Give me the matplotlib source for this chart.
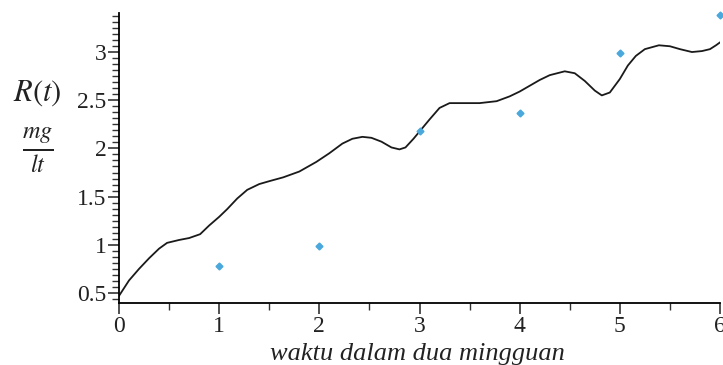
import matplotlib
matplotlib.use("Agg")
import matplotlib.pyplot as plt
from matplotlib.ticker import MultipleLocator

# measured data (weeks, mg/lt)
data_t = [1, 2, 3, 4, 5, 6]
data_r = [0.78, 0.99, 2.18, 2.37, 2.99, 3.38]

# fitted curve R(t)
curve_t = [0.0, 0.1, 0.2, 0.3, 0.4, 0.48, 0.6, 0.7, 0.81, 0.9, 1.0, 1.08, 1.18,
           1.28, 1.4, 1.5, 1.64, 1.8, 1.97, 2.1, 2.23, 2.33, 2.43, 2.52, 2.62,
           2.72, 2.8, 2.86, 2.94, 3.02, 3.1, 3.2, 3.3, 3.45, 3.6, 3.77, 3.9,
           4.0, 4.1, 4.2, 4.3, 4.45, 4.55, 4.65, 4.75, 4.82, 4.9, 5.0, 5.08,
           5.16, 5.25, 5.39, 5.5, 5.6, 5.72, 5.82, 5.9, 5.96, 6.0]
curve_r = [0.47, 0.63, 0.75, 0.86, 0.96, 1.02, 1.05, 1.07, 1.11, 1.2, 1.29, 1.37,
           1.48, 1.57, 1.63, 1.66, 1.7, 1.76, 1.86, 1.95, 2.05, 2.1, 2.12, 2.11,
           2.07, 2.01, 1.99, 2.01, 2.1, 2.2, 2.3, 2.42, 2.47, 2.47, 2.47, 2.49,
           2.54, 2.59, 2.65, 2.71, 2.76, 2.8, 2.78, 2.7, 2.6, 2.55, 2.58, 2.72,
           2.86, 2.96, 3.03, 3.07, 3.06, 3.03, 3.0, 3.01, 3.03, 3.07, 3.1]

plt.rcParams["font.family"] = ["Liberation Serif", "DejaVu Serif"]
plt.rcParams["mathtext.fontset"] = "stix"

fig = plt.figure(figsize=(7.23, 3.65), dpi=100)
ax = fig.add_axes([119 / 723, 1 - 303 / 365, 601 / 723, 290 / 365])

ax.plot(curve_t, curve_r, color="#1a1a1a", linewidth=1.3)
ax.plot(data_t, data_r, linestyle="none", marker="D", markersize=3.5,
        color="#4aa8dc", clip_on=False)

ax.set_xlim(0, 6)
ax.set_ylim(0.396, 3.405)
ax.spines["top"].set_visible(False)
ax.spines["right"].set_visible(False)
ax.spines["left"].set_linewidth(1.3)
ax.spines["bottom"].set_linewidth(1.3)

ax.set_xticks([0, 1, 2, 3, 4, 5, 6])
ax.set_yticks([0.5, 1, 1.5, 2, 2.5, 3])
ax.set_yticklabels(["0.5", "1", "1.5", "2", "2.5", "3"])
ax.xaxis.set_minor_locator(MultipleLocator(0.5))
ax.yaxis.set_minor_locator(MultipleLocator(0.0625))
ax.tick_params(which="major", length=8, width=1.2, labelsize=17, color="#333333",
               labelcolor="#222222", pad=1)
ax.tick_params(which="minor", length=5, width=1.0, color="#333333")

fig.text(37 / 723, 1 - 93 / 365, r"$R(t)$", fontsize=22, ha="center", va="center",
         color="#222222")
fig.text(38 / 723, 1 - 150 / 365, r"$\frac{mg}{lt}$", fontsize=25, ha="center",
         va="center", color="#222222")
fig.text(417 / 723, 1 - 354 / 365, "waktu dalam dua mingguan", fontsize=19,
         style="italic", ha="center", va="center", color="#222222")

fig.savefig("out.png", dpi=100)
